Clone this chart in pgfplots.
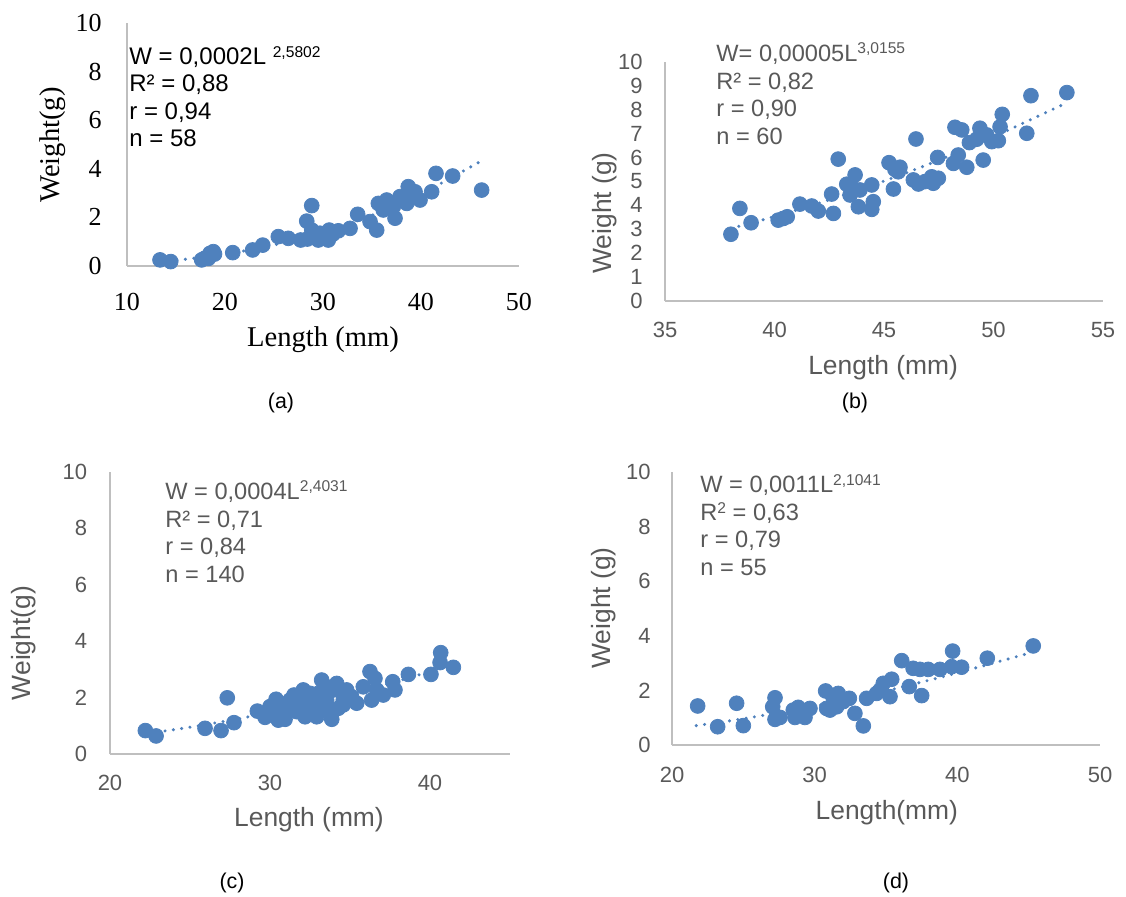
\documentclass[border=0pt]{standalone}
\usepackage{fontspec}
\setmainfont{Liberation Sans}
\newfontfamily\seriffont{Liberation Serif}
\usepackage{pgfplots}
\pgfplotsset{compat=1.18}

\definecolor{markblue}{HTML}{4F81BD}
\definecolor{axisgray}{HTML}{BFBFBF}
\definecolor{textgray}{HTML}{595959}

\pgfplotsset{
  panel/.style={
    scale only axis, clip=false,
    axis x line=bottom, axis y line=left,
    axis line style={draw=axisgray, line width=1pt, -},
    major tick length=0pt,
    ymin=0, ymax=10,
    /pgf/number format/assume math mode=true,
  },
  pts/.style={only marks, mark=*, mark size=3.7pt, color=markblue, mark options={fill=markblue, draw=markblue}},
  trend/.style={no marks, smooth, color=markblue, line width=1.7pt, line cap=round, dash pattern=on 0pt off 4.2pt},
}

\begin{document}
\begin{tikzpicture}
\path[use as bounding box] (0,0) rectangle (563pt,-448pt);

% (a)
\begin{axis}[panel, at={(63.5pt,-132.85pt)}, anchor=south west,
  width=196pt, height=121.2pt,
  xmin=10, xmax=50, xtick={10,20,30,40,50}, ytick={0,2,4,6,8,10},
  tick label style={font=\seriffont\fontsize{13}{15}\selectfont, text=black},
  xticklabel style={anchor=center, yshift=-18pt},
  yticklabel style={anchor=east, inner sep=0pt, xshift=-12.5pt},
  label style={font=\seriffont\fontsize{14.3}{16}\selectfont, text=black},
  xlabel={Length (mm)}, ylabel={Weight(g)},
  xlabel style={at={(axis description cs:0.5,-0.305)}, anchor=center},
  ylabel style={at={(axis description cs:-0.189,0.498)}, anchor=center},
]
\addplot[pts] coordinates {
(13.37,0.24)(14.46,0.17)(17.62,0.24)(17.9,0.30)(18.3,0.30)(18.47,0.51)(18.81,0.58)(18.93,0.48)
(20.79,0.54)(22.82,0.65)(23.85,0.85)(25.44,1.20)(26.46,1.13)(27.72,1.06)(28.34,1.84)
(28.85,2.48)(28.85,1.47)(28.4,1.10)(29.52,1.06)(29.69,1.34)(30.1,1.25)(30.54,1.06)
(30.64,1.47)(31.0,1.30)(31.56,1.44)(32.76,1.54)(33.54,2.12)(34.8,1.82)(35.48,1.47)
(35.65,2.57)(36.15,2.30)(36.5,2.71)(37.17,2.43)(37.35,1.96)(37.86,2.85)(38.54,2.57)
(38.7,3.26)(38.98,2.85)(39.39,3.05)(39.9,2.71)(41.09,3.05)(41.53,3.81)(43.23,3.70)(46.19,3.12)
};
\addplot[trend] coordinates {
(13.4,0.163)(15,0.222)(20,0.475)(25,0.856)(30,1.385)(35,2.081)(40,2.96)(46.2,4.33)
};
\end{axis}

% (b)
\begin{axis}[panel, at={(332.5pt,-150.5pt)}, anchor=south west,
  width=219pt, height=119.65pt,
  xmin=35, xmax=55, xtick={35,40,45,50,55}, ytick={0,1,...,10},
  tick label style={font=\fontsize{11}{12}\selectfont, text=textgray},
  xticklabel style={anchor=center, yshift=-14.5pt},
  yticklabel style={anchor=east, inner sep=0pt, xshift=-11pt},
  label style={font=\fontsize{13.2}{15}\selectfont, text=textgray},
  xlabel={Length (mm)}, ylabel={Weight (g)},
  xlabel style={at={(axis description cs:0.498,-0.28)}, anchor=center},
  ylabel style={at={(axis description cs:-0.137,0.368)}, anchor=center},
]
\addplot[pts] coordinates {
(38.01,2.79)(38.42,3.87)(38.93,3.27)(40.17,3.38)(40.4,3.45)(40.58,3.52)(41.16,4.05)
(41.7,3.97)(42.0,3.76)(42.61,4.47)(42.69,3.66)(42.91,5.93)(43.30,4.88)(43.68,5.27)
(43.45,4.43)(43.83,3.94)(43.90,4.64)(43.6,4.70)(44.44,4.85)(44.51,4.15)(44.44,3.83)
(45.43,4.68)(45.23,5.78)(45.73,5.59)(45.65,5.40)(45.5,5.50)(46.46,6.77)(46.34,5.06)
(46.57,4.89)(46.87,4.99)(47.25,4.92)(47.48,5.13)(47.45,6.00)(47.18,5.19)(48.17,5.75)
(48.39,6.10)(48.24,7.26)(48.55,7.15)(48.78,5.59)(48.90,6.62)(49.23,6.76)(49.38,7.22)
(49.53,5.89)(49.69,6.94)(49.92,6.66)(50.22,6.70)(50.30,7.28)(50.40,7.80)(51.52,7.01)
(51.71,8.58)(53.35,8.71)
};
\addplot[trend] coordinates {
(38.0,3.03)(40,3.53)(42,4.08)(44,4.69)(46,5.35)(48,6.07)(50,6.86)(52,7.71)(53.2,8.22)
};
\end{axis}

% (c)
\begin{axis}[panel, at={(55pt,-377pt)}, anchor=south west,
  width=200pt, height=141.15pt,
  xmin=20, xmax=45, xtick={20,30,40}, ytick={0,2,4,6,8,10},
  tick label style={font=\fontsize{11}{12}\selectfont, text=textgray},
  xticklabel style={anchor=center, yshift=-14.5pt},
  yticklabel style={anchor=east, inner sep=0pt, xshift=-11.2pt},
  label style={font=\fontsize{13.2}{15}\selectfont, text=textgray},
  xlabel={Length (mm)}, ylabel={Weight(g)},
  xlabel style={at={(axis description cs:0.4975,-0.234)}, anchor=center},
  ylabel style={at={(axis description cs:-0.215,0.393)}, anchor=center},
]
\addplot[pts] coordinates {
(22.21,0.83)(22.88,0.64)(25.94,0.91)(26.94,0.83)(27.33,1.99)(27.75,1.11)
(29.21,1.52)(29.69,1.30)(30.0,1.68)(30.21,1.50)(30.38,1.94)(30.52,1.20)(30.94,1.23)
(30.94,1.68)(31.04,1.56)(31.25,1.91)(31.5,2.09)(31.67,1.50)(31.875,1.68)(32.08,2.27)
(32.19,1.32)(32.29,1.97)(32.5,1.74)(32.5,2.15)(32.92,1.32)(32.92,1.91)(33.02,2.15)
(33.23,2.62)(33.33,1.68)(33.54,1.91)(33.54,2.38)(33.65,1.50)(33.86,1.23)(33.96,2.27)
(34.17,2.50)(34.27,1.62)(34.58,1.91)(34.58,1.74)(34.79,2.27)(35.1,2.03)(35.42,1.80)
(35.83,2.38)(36.25,2.92)(36.35,1.91)(36.56,2.68)(36.67,2.27)(37.08,2.09)(37.67,2.56)
(37.81,2.27)(38.65,2.82)(40.06,2.82)(40.63,3.24)(40.67,3.59)(41.46,3.07)
};
\addplot[trend] coordinates {
(22.4,0.731)(25,0.950)(28,1.246)(31,1.589)(34,1.981)(37,2.424)(40,2.921)(41.5,3.19)
};
\end{axis}

% (d)
\begin{axis}[panel, at={(336pt,-372.5pt)}, anchor=south west,
  width=214pt, height=136.5pt,
  xmin=20, xmax=50, xtick={20,30,40,50}, ytick={0,2,4,6,8,10},
  tick label style={font=\fontsize{11}{12}\selectfont, text=textgray},
  xticklabel style={anchor=center, yshift=-15pt},
  yticklabel style={anchor=east, inner sep=0pt, xshift=-10.5pt},
  label style={font=\fontsize{13.2}{15}\selectfont, text=textgray},
  xlabel={Length(mm)}, ylabel={Weight (g)},
  xlabel style={at={(axis description cs:0.502,-0.249)}, anchor=center},
  ylabel style={at={(axis description cs:-0.159,0.502)}, anchor=center},
]
\addplot[pts] coordinates {
(21.80,1.43)(23.2,0.67)(24.53,1.53)(25.0,0.71)(27.22,1.73)(27.06,1.40)(27.22,0.94)
(27.57,1.01)(28.5,1.28)(28.85,1.38)(28.62,1.01)(29.32,1.01)(29.67,1.34)(30.77,1.98)
(31.07,1.28)(31.65,1.89)(31.54,1.40)(32.43,1.71)(32.82,1.16)(33.41,0.70)(30.84,1.34)
(31.3,1.71)(32.0,1.59)(33.64,1.71)(34.34,1.89)(34.58,2.01)(34.81,2.26)(35.28,1.77)
(35.4,2.41)(36.1,3.09)(36.63,2.14)(37.5,1.81)(37.38,2.77)(36.9,2.81)(37.96,2.77)
(38.78,2.77)(39.67,3.44)(39.6,2.87)(40.3,2.85)(42.1,3.18)(45.32,3.63)
};
\addplot[trend] coordinates {
(21.7,0.71)(25,0.964)(30,1.426)(35,1.984)(40,2.642)(45,3.36)
};
\end{axis}

% fitted equations
\begin{scope}[every node/.style={anchor=base west, inner sep=0pt}]
\begin{scope}[font=\fontsize{12}{14}\selectfont, text=black]
\node at (64.5pt,-32pt) {W = 0,0002L \raisebox{3.4pt}{\fontsize{7.8}{9}\selectfont 2,5802}};
\node at (64.5pt,-45.85pt) {R² = 0,88};
\node at (64.5pt,-59.65pt) {r = 0,94};
\node at (64.5pt,-73.35pt) {n = 58};
\end{scope}
\begin{scope}[font=\fontsize{11.8}{14}\selectfont, text=textgray]
\node at (358pt,-30.5pt) {W= 0,00005L\raisebox{3.8pt}{\fontsize{7.8}{9}\selectfont 3,0155}};
\node at (358pt,-44.65pt) {R² = 0,82};
\node at (358pt,-58pt) {r = 0,90};
\node at (358pt,-72pt) {n = 60};
\node at (82.5pt,-249.65pt) {W = 0,0004L\raisebox{3.8pt}{\fontsize{7.8}{9}\selectfont 2,4031}};
\node at (82.5pt,-263.65pt) {R² = 0,71};
\node at (82.5pt,-277.15pt) {r = 0,84};
\node at (82.5pt,-291.35pt) {n = 140};
\node at (350pt,-246.35pt) {W = 0,0011L\raisebox{3.8pt}{\fontsize{7.8}{9}\selectfont 2,1041}};
\node at (350pt,-260.35pt) {R\raisebox{3.8pt}{\fontsize{7.8}{9}\selectfont 2} = 0,63};
\node at (350pt,-273.85pt) {r = 0,79};
\node at (350pt,-287.5pt) {n = 55};
\end{scope}
\end{scope}

% captions
\begin{scope}[every node/.style={anchor=center, font=\fontsize{10.7}{12}\selectfont, text=black}]
\node at (140.5pt,-201.5pt) {(a)};
\node at (427.5pt,-201.5pt) {(b)};
\node at (116pt,-441.5pt) {(c)};
\node at (448pt,-441.5pt) {(d)};
\end{scope}
\end{tikzpicture}
\end{document}
